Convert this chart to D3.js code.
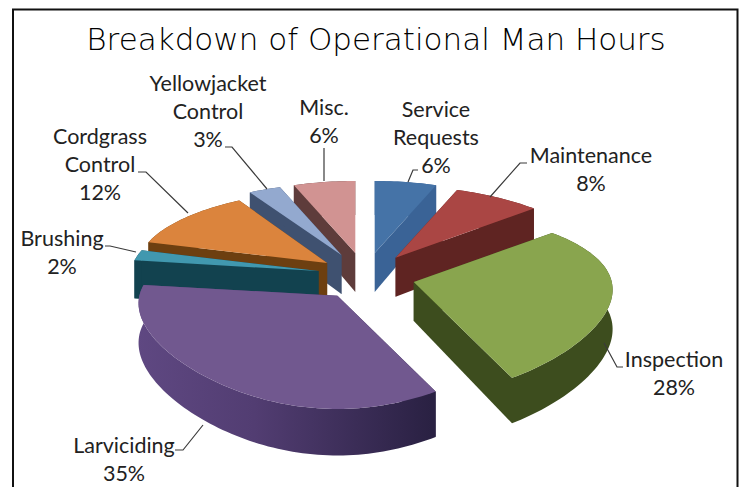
<!DOCTYPE html>
<html>
<head>
<meta charset="utf-8">
<script src="https://cdn.jsdelivr.net/npm/d3@7"></script>
<style>
html,body{margin:0;padding:0;background:#fff;overflow:hidden}
svg{display:block}
</style>
</head>
<body>
<svg id="chart" width="742" height="487"></svg>
<script>
// Share of operational man hours, clockwise from twelve o'clock
const categories = ["Service Requests","Maintenance","Inspection","Larviciding","Brushing","Cordgrass Control","Yellowjacket Control","Misc."];
const hours = [6,8,28,35,2,12,3,6];
const topColors = ["#4573a7","#aa4644","#89a54e","#71588f","#4198af","#db843d","#93a9cf","#d19392"];
const wallColors = ["#3a6396","#5f2422","#3d4d1e","url(#frontWall)","#12424f","#6d3f10","#3f5170","#5e3c3b"];
const labelLines = [["Service","Requests","6%"],["Maintenance","8%"],["Inspection","28%"],["Larviciding","35%"],["Brushing","2%"],["Cordgrass","Control","12%"],["Yellowjacket","Control","3%"],["Misc.","6%"]];

// How far each wedge is pulled out of the pie, its sideways reach, and a small screen drift
const explodeBy = [0.27,0.27,0.27,0.27,0.24,0.24,0.27,0.27];
const reach = [1,1,1,1,0.95,0.96,1,1];
const drift = [[0,0],[0,1],[-4,2.5],[3,0],[0,0],[0,0],[0,0],[0,0]];

// Page layout of the labels and their leader lines
const labelCentres = [[436,109],[591,155],[674,359],[124,445],[62,238],[100,136],[208,83],[324,107]];
const leaders = [
  [[408,182],[413,170],[418,170]],
  [[490,197],[520,163],[527,163]],
  [[604,343],[617,367],[623,367]],
  [[203,425],[183,450],[175,450]],
  [[105,246],[110,246],[136,252]],
  [[138,172],[146,172],[188,213]],
  [[225,147],[232,147],[267,189]],
  [[324,148],[324,181]]
];
// Painter's order: far wedges first, nearest last
const drawOrder = [0,7,6,1,5,4,2,3];

const cx = 365, cy = 275;
const rx = 198, ry = 88, perspective = 0.223, depth = 39;

const svg = d3.select("#chart");
const slices = d3.pie().sort(null).value(d => d)(hours);

// Unit-disc point to screen offset: far points shrink, near points grow
const scaleAt = y => 1 / (1 - perspective * y);
const widthAt = y => 1 + 0.0995 * y - 0.0747 * y * y;
const project = (x, y) => [rx * x * widthAt(y), ry * y * scaleAt(y)];
const onDisc = a => [Math.sin(a), -Math.cos(a)];

const defs = svg.append("defs");
const wallGrad = defs.append("linearGradient").attr("id","frontWall").attr("gradientUnits","userSpaceOnUse")
  .attr("x1",136).attr("x2",431).attr("y1",0).attr("y2",0);
wallGrad.append("stop").attr("offset",0).attr("stop-color","#5f4882");
wallGrad.append("stop").attr("offset",0.4).attr("stop-color","#523d72");
wallGrad.append("stop").attr("offset",1).attr("stop-color","#2a2143");

const line = d3.line();
const pie = svg.append("g");

drawOrder.forEach(i => {
  const s = slices[i];
  const mid = (s.startAngle + s.endAngle) / 2;
  const [ox, oy] = project(...onDisc(mid).map(v => v * explodeBy[i]));
  const apex = [cx + ox + drift[i][0], cy + oy + drift[i][1]];
  const place = a => { const [x,y] = onDisc(a); const p = project(x,y); return [apex[0]+p[0]*reach[i], apex[1]+p[1]]; };
  const drop = (p, y) => [p[0], p[1] + depth * Math.pow(scaleAt(y), 0.7)];
  const steps = d3.range(0, 1.0001, 1 / Math.max(4, Math.ceil((s.endAngle - s.startAngle) * 40)))
    .map(t => s.startAngle + t * (s.endAngle - s.startAngle));
  const rim = steps.map(place);
  const rimDrop = steps.map((a, j) => drop(rim[j], onDisc(a)[1]));
  const g = pie.append("g").attr("class","wedge");
  // Outer curved wall
  g.append("path").attr("d", line(rim.concat(rimDrop.slice().reverse())) + "Z").attr("fill", wallColors[i]);
  // Both cut faces
  const apexDrop = drop(apex, 0);
  [0, rim.length - 1].forEach(k => {
    g.append("path").attr("d", line([apex, rim[k], rimDrop[k], apexDrop]) + "Z").attr("fill", wallColors[i]);
  });
  // Top face
  g.append("path").attr("d", line([apex].concat(rim)) + "Z").attr("fill", topColors[i]);
});

// Leader lines
svg.append("g").attr("fill","none").attr("stroke","#3a3a3a").attr("stroke-width",1.2)
  .selectAll("path").data(leaders).join("path").attr("d", d => line(d));

// Data labels
const labels = svg.append("g").attr("font-family","Lato, 'Open Sans', sans-serif").attr("font-size",21.5).attr("fill","#222").attr("text-anchor","middle");
labelLines.forEach((rows, i) => {
  rows.forEach((t, j) => {
    labels.append("text").attr("x", labelCentres[i][0]).attr("y", labelCentres[i][1] + j * 28.3)
      .attr("dy","0.35em").text(t);
  });
});

// Title and frame
svg.append("text").attr("x",376).attr("y",50).attr("text-anchor","middle")
  .attr("font-family","'DejaVu Sans', sans-serif").attr("font-weight",200).attr("font-size",31).attr("fill","#000")
  .text("Breakdown of Operational Man Hours");
svg.append("path").attr("d", "M13,500V9.5H737.5V500").attr("fill","none").attr("stroke","#111").attr("stroke-width",2);
</script>
</body>
</html>
